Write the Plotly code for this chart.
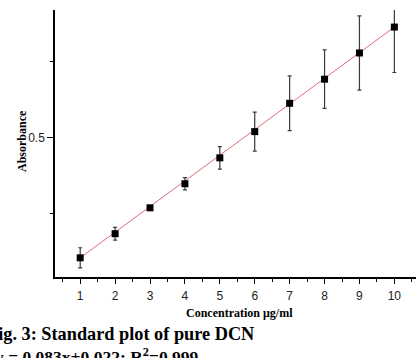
import plotly.graph_objects as go

concentration = [1, 2, 3, 4, 5, 6, 7, 8, 9, 10]
absorbance = [0.105, 0.184, 0.269, 0.348, 0.433, 0.519, 0.612, 0.691, 0.777, 0.862]
sd = [0.033, 0.021, 0.003, 0.020, 0.037, 0.064, 0.090, 0.096, 0.122, 0.149]
fit_x = [1, 10]
fit_y = [0.105, 0.862]
x_tick_labels = ["1", "2", "3", "4", "5", "6", "7", "8", "9", "10"]
y_tick_vals = [0.5]
y_tick_labels = ["0.5"]
y_minor_vals = [0.25, 0.75]

W, H = 416, 358
L, R, T, B = 55, 0, 10, 81
PW = W - L - R
PH = H - T - B

fig = go.Figure()
fig.add_trace(go.Scatter(x=fit_x, y=fit_y, mode="lines",
                         line=dict(color="#e36a78", width=1), hoverinfo="skip"))
fig.add_trace(go.Scatter(
    x=concentration, y=absorbance, mode="markers",
    marker=dict(symbol="square", size=7, color="#000000"),
    error_y=dict(type="data", array=sd, visible=True, color="#3a3a3a",
                 thickness=1.2, width=2),
))

def px_x(p):
    return (p - L) / PW

def px_y(p):
    return 1 - (p - T) / PH

serif = "Liberation Serif, Times New Roman, serif"
sans = "Liberation Sans, Arial, sans-serif"

fig.update_layout(
    width=W, height=H,
    margin=dict(l=L, r=R, t=T, b=B),
    paper_bgcolor="white", plot_bgcolor="white",
    showlegend=False,
    xaxis=dict(range=[0.278, 10.62], showline=True, linecolor="black", linewidth=1.5,
               showgrid=False, zeroline=False,
               tickmode="array", tickvals=concentration, ticktext=x_tick_labels,
               ticks="outside", ticklen=5, tickwidth=1.2, tickcolor="black",
               minor=dict(tickmode="array", tickvals=[v + 0.5 for v in [0] + concentration],
                          ticks="outside", ticklen=3, tickwidth=1, tickcolor="black"),
               tickfont=dict(family=sans, size=12, color="#222"), ticklabelstandoff=2),
    yaxis=dict(range=[0.042, 0.918], showline=True, linecolor="black", linewidth=1.5,
               showgrid=False, zeroline=False,
               tickmode="array", tickvals=y_tick_vals, ticktext=y_tick_labels,
               ticks="outside", ticklen=6, tickwidth=1.2, tickcolor="black",
               minor=dict(tickmode="array", tickvals=y_minor_vals,
                          ticks="outside", ticklen=3, tickwidth=1, tickcolor="black"),
               tickfont=dict(family=sans, size=12, color="#222")),
    annotations=[
        dict(text="<b>Absorbance</b>", xref="paper", yref="paper",
             x=px_x(22), y=px_y(141), textangle=-90, showarrow=False,
             xanchor="center", yanchor="middle",
             font=dict(family=serif, size=12, color="black")),
        dict(text="<b>Concentration μg/ml</b>", xref="paper", yref="paper",
             x=px_x(239), y=px_y(313), showarrow=False,
             xanchor="center", yanchor="middle",
             font=dict(family=serif, size=12, color="black")),
        dict(text="<b>Fig. 3: Standard plot of pure DCN</b>", xref="paper", yref="paper",
             x=px_x(256), y=px_y(334), showarrow=False,
             xanchor="right", yanchor="middle",
             font=dict(family=serif, size=18.3, color="black")),
        dict(text="<b>y = 0.083x+0.022; R<sup>2</sup>=0.999</b>", xref="paper", yref="paper",
             x=px_x(-7), y=px_y(356), showarrow=False,
             xanchor="left", yanchor="middle",
             font=dict(family=serif, size=17.5, color="black")),
    ],
)

fig.write_html("out.html")
